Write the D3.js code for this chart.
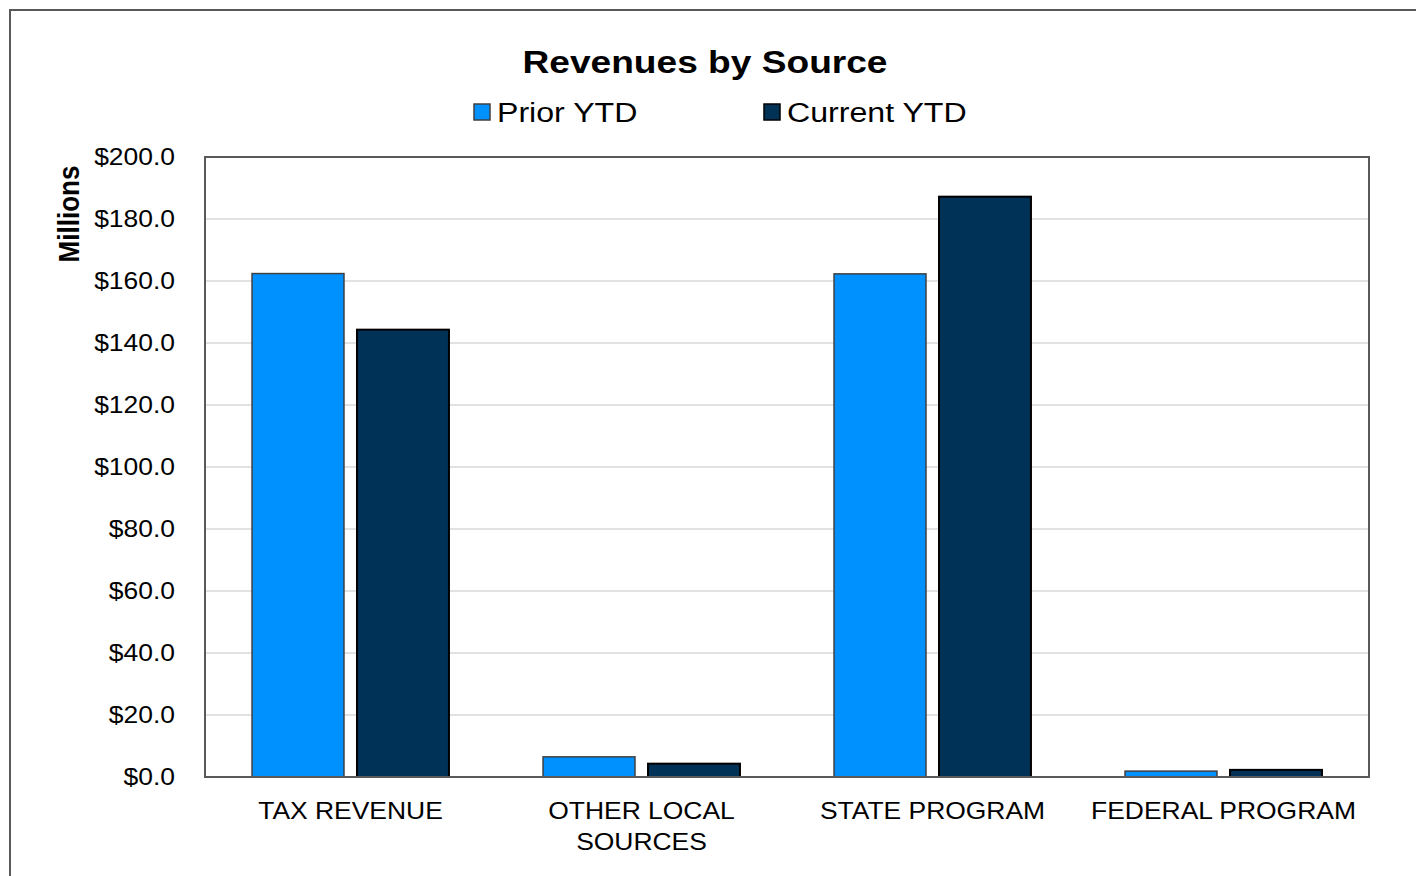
<!DOCTYPE html>
<html><head><meta charset="utf-8">
<script src="https://cdn.jsdelivr.net/npm/d3@7"></script>
<style>html,body{margin:0;padding:0;background:#fff;}svg{display:block;}</style>
</head><body>
<svg id="chart" width="1416" height="876"></svg>
<script>
const categories = [["TAX REVENUE"], ["OTHER LOCAL", "SOURCES"], ["STATE PROGRAM"], ["FEDERAL PROGRAM"]];
const categoryKeys = ["TAX REVENUE", "OTHER LOCAL SOURCES", "STATE PROGRAM", "FEDERAL PROGRAM"];
const seriesNames = ["Prior YTD", "Current YTD"];
const priorYTD = [162.4, 6.5, 162.3, 1.9];
const currentYTD = [144.3, 4.3, 187.2, 2.3];
const yTicks = [0, 20, 40, 60, 80, 100, 120, 140, 160, 180, 200];
const chartTitle = "Revenues by Source";
const yAxisTitle = "Millions";

const fills = {"Prior YTD": "#0091ff", "Current YTD": "#003157"};
const strokes = {"Prior YTD": "#404040", "Current YTD": "#000000"};
const SX = 1.15;
const font = "'Liberation Sans', Arial, sans-serif";

const svg = d3.select("#chart");
const m = {left: 205, right: 1369, top: 157, bottom: 777};

// outer frame
svg.append("rect").attr("x", 10).attr("y", 10).attr("width", 1430).attr("height", 900)
  .attr("fill", "none").attr("stroke", "#595959").attr("stroke-width", 2);

const x0 = d3.scaleBand().domain(categoryKeys).range([m.left, m.right]).padding(0);
const x1 = d3.scaleBand().domain(seriesNames).range([0, x0.bandwidth()])
  .paddingInner(0.124).paddingOuter(0.448);
const y = d3.scaleLinear().domain([0, 200]).range([m.bottom, m.top]);

// gridlines
svg.append("g").selectAll("line").data(yTicks.filter(d => d > 0 && d < 200)).join("line")
  .attr("x1", m.left).attr("x2", m.right)
  .attr("y1", d => y(d)).attr("y2", d => y(d))
  .attr("stroke", "#d9d9d9").attr("stroke-width", 1.5);

function stext(g, x, yy, txt, size, weight, anchor, rot, sx) {
  return g.append("text")
    .attr("transform", `translate(${x},${yy}) scale(${sx || SX},1)` + (rot ? ` rotate(${rot})` : ""))
    .attr("text-anchor", anchor).attr("font-family", font)
    .attr("font-size", size).attr("font-weight", weight).attr("fill", "#000").text(txt);
}

// bars
const data = categoryKeys.map((c, i) => ({cat: c, vals: [
  {s: "Prior YTD", v: priorYTD[i]}, {s: "Current YTD", v: currentYTD[i]}]}));
const cg = svg.append("g").selectAll("g").data(data).join("g")
  .attr("transform", d => `translate(${x0(d.cat)},0)`);
cg.selectAll("rect").data(d => d.vals).join("rect")
  .attr("x", d => x1(d.s)).attr("width", x1.bandwidth())
  .attr("y", d => y(d.v)).attr("height", d => y(0) - y(d.v))
  .attr("fill", d => fills[d.s]).attr("stroke", d => strokes[d.s])
  .attr("stroke-width", d => d.s === "Prior YTD" ? 1.5 : 2);

// plot border
svg.append("rect").attr("x", m.left).attr("y", m.top)
  .attr("width", m.right - m.left).attr("height", m.bottom - m.top)
  .attr("fill", "none").attr("stroke", "#595959").attr("stroke-width", 2);

// y tick labels
const yg = svg.append("g");
yTicks.forEach(t => stext(yg, 175, y(t) + 8, "$" + d3.format(".1f")(t), 23, "normal", "end"));

// x labels
const xg = svg.append("g");
categories.forEach((lines, i) => {
  const cx = x0(categoryKeys[i]) + x0.bandwidth() / 2;
  lines.forEach((ln, j) => stext(xg, cx, 819 + j * 31, ln, 23, "normal", "middle"));
});

// y axis title
stext(svg, 79, 214, yAxisTitle, 26, "bold", "middle", -90, 1.1);

// title
stext(svg, 705, 72.5, chartTitle, 32, "bold", "middle", 0, 1.16);

// legend
const legX = [474, 764];
const lg = svg.append("g");
seriesNames.forEach((s, i) => {
  lg.append("rect").attr("x", legX[i]).attr("y", 104).attr("width", 16).attr("height", 16)
    .attr("fill", fills[s]).attr("stroke", s === "Prior YTD" ? "#404040" : "#000").attr("stroke-width", 1.5);
  stext(lg, legX[i] + 23, 121.5, s, 27, "normal", "start", 0, 1.19);
});
</script>
</body></html>
